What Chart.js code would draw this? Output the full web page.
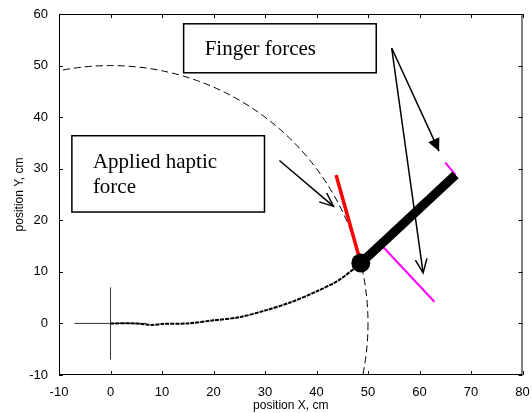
<!DOCTYPE html>
<html>
<head>
<meta charset="utf-8">
<script src="https://cdn.jsdelivr.net/npm/chart.js@4"></script>
<style>
  body { margin: 0; background: #fff; }
  #c { display: block; }
</style>
</head>
<body>
<canvas id="c" width="532" height="413"></canvas>
<script>
// trajectory of the hand (cm)
var trajX = [0, 5, 8, 10, 15, 20, 25, 30, 35, 40, 44.5, 48.6];
var trajY = [0, 0, -0.3, -0.1, 0, 0.6, 1.2, 2.5, 4.1, 6.2, 8.5, 11.7];

// object / forces
var handPos = [48.6, 11.7];
var objEnd = [67, 28.8];
var hapticEnd = [43.8, 28.8];
var fingerA = [[65, 31.2], [67, 28.8]];
var fingerB = [[52.3, 15.5], [62.9, 4.2]];

// workspace circle and origin cross
var circleCenter = [0, 0];
var circleRadius = 50;
var crossX = [-7, 7];
var crossY = [-7, 7];

// arrows : [from, to]
var arrowFinger1 = [[54.6, 53.4], [60.7, 9.8]];
var arrowFinger2 = [[54.6, 53.4], [63.8, 33.4]];
var arrowHaptic = [[32.8, 31.6], [43.3, 22.7]];

// text boxes (data coords : left, top, right, bottom)
var boxFinger = [14.2, 58.1, 51.6, 48.6];
var boxHaptic = [-7.5, 36.4, 29.9, 21.6];
var labelFinger = ['Finger forces'];
var labelHaptic = ['Applied haptic', 'force'];

var xTicks = [-10, 0, 10, 20, 30, 40, 50, 60, 70, 80];
var yTicks = [-10, 0, 10, 20, 30, 40, 50, 60];

function pts(xs, ys) {
  return xs.map(function(x, i) { return { x: x, y: ys[i] }; });
}
function seg(a, b) {
  return [{ x: a[0], y: a[1] }, { x: b[0], y: b[1] }];
}

function arrow(ctx, sx, sy, p, filled) {
  var x1 = sx.getPixelForValue(p[0][0]), y1 = sy.getPixelForValue(p[0][1]);
  var x2 = sx.getPixelForValue(p[1][0]), y2 = sy.getPixelForValue(p[1][1]);
  var a = Math.atan2(y2 - y1, x2 - x1);
  ctx.save();
  ctx.strokeStyle = '#000';
  ctx.fillStyle = '#000';
  ctx.lineWidth = 1.5;
  ctx.beginPath();
  ctx.moveTo(x1, y1);
  ctx.lineTo(x2, y2);
  ctx.stroke();
  var len = filled ? 14 : 15, spread = filled ? 0.45 : 0.4;
  ctx.beginPath();
  ctx.moveTo(x2 - len * Math.cos(a - spread), y2 - len * Math.sin(a - spread));
  ctx.lineTo(x2, y2);
  ctx.lineTo(x2 - len * Math.cos(a + spread), y2 - len * Math.sin(a + spread));
  if (filled) { ctx.closePath(); ctx.fill(); } else { ctx.stroke(); }
  ctx.restore();
}

function textBox(ctx, sx, sy, b, lines) {
  var l = sx.getPixelForValue(b[0]), t = sy.getPixelForValue(b[1]);
  var r = sx.getPixelForValue(b[2]), bo = sy.getPixelForValue(b[3]);
  ctx.save();
  ctx.fillStyle = '#fff';
  ctx.fillRect(l, t, r - l, bo - t);
  ctx.strokeStyle = '#000';
  ctx.lineWidth = 1.5;
  ctx.strokeRect(l, t, r - l, bo - t);
  ctx.fillStyle = '#000';
  ctx.font = '21px "Liberation Serif", "Times New Roman", serif';
  ctx.textBaseline = 'alphabetic';
  var y0 = lines.length > 1 ? t + 32 : t + 31;
  lines.forEach(function(s, i) {
    ctx.fillText(s, l + 21, y0 + i * 25);
  });
  ctx.restore();
}

var decor = {
  id: 'decor',
  beforeDatasetsDraw: function(chart) {
    var ctx = chart.ctx, sx = chart.scales.x, sy = chart.scales.y, ca = chart.chartArea;
    ctx.save();
    ctx.beginPath();
    ctx.rect(ca.left, ca.top, ca.right - ca.left, ca.bottom - ca.top);
    ctx.clip();
    // dashed circle
    var cx = sx.getPixelForValue(circleCenter[0]), cy = sy.getPixelForValue(circleCenter[1]);
    var rx = sx.getPixelForValue(circleRadius) - sx.getPixelForValue(0);
    var ry = sy.getPixelForValue(0) - sy.getPixelForValue(circleRadius);
    ctx.strokeStyle = '#000';
    ctx.lineWidth = 1;
    ctx.setLineDash([7, 4]);
    ctx.beginPath();
    ctx.ellipse(cx, cy, rx, ry, 0, 0, Math.PI * 2);
    ctx.stroke();
    ctx.setLineDash([]);
    // origin cross
    ctx.strokeStyle = '#333';
    ctx.beginPath();
    ctx.moveTo(sx.getPixelForValue(crossX[0]), cy);
    ctx.lineTo(sx.getPixelForValue(crossX[1]), cy);
    ctx.moveTo(cx, sy.getPixelForValue(crossY[0]));
    ctx.lineTo(cx, sy.getPixelForValue(crossY[1]));
    ctx.stroke();
    ctx.restore();
  },
  afterDatasetsDraw: function(chart) {
    var ctx = chart.ctx, sx = chart.scales.x, sy = chart.scales.y, ca = chart.chartArea;
    arrow(ctx, sx, sy, arrowFinger1, false);
    arrow(ctx, sx, sy, arrowFinger2, true);
    arrow(ctx, sx, sy, arrowHaptic, false);
    textBox(ctx, sx, sy, boxFinger, labelFinger);
    textBox(ctx, sx, sy, boxHaptic, labelHaptic);
    // frame and inward ticks
    ctx.save();
    ctx.strokeStyle = '#000';
    ctx.lineWidth = 1;
    ctx.strokeRect(ca.left + 0.5, ca.top + 0.5, ca.right - ca.left - 1, ca.bottom - ca.top - 1);
    ctx.beginPath();
    xTicks.forEach(function(v) {
      var x = Math.round(sx.getPixelForValue(v)) + 0.5;
      ctx.moveTo(x, ca.bottom); ctx.lineTo(x, ca.bottom - 4);
      ctx.moveTo(x, ca.top); ctx.lineTo(x, ca.top + 4);
    });
    yTicks.forEach(function(v) {
      var y = Math.round(sy.getPixelForValue(v)) + 0.5;
      ctx.moveTo(ca.left, y); ctx.lineTo(ca.left + 4, y);
      ctx.moveTo(ca.right, y); ctx.lineTo(ca.right - 4, y);
    });
    ctx.stroke();
    ctx.restore();
  }
};

var ctx = document.getElementById('c').getContext('2d');
var chart = new Chart(ctx, {
  type: 'scatter',
  data: {
    datasets: [
      { // hand marker
        data: seg(handPos, handPos).slice(0, 1),
        pointRadius: 9.5, pointBackgroundColor: '#000', pointBorderWidth: 0, showLine: false
      },
      { // haptic force (red)
        data: seg(handPos, hapticEnd),
        borderColor: '#ff0000', borderWidth: 3.5, showLine: true, pointRadius: 0
      },
      { // object (thick black)
        data: seg(handPos, objEnd),
        borderColor: '#000', borderWidth: 9, showLine: true, pointRadius: 0
      },
      { // finger force A
        data: seg(fingerA[0], fingerA[1]),
        borderColor: '#ff00ff', borderWidth: 2, showLine: true, pointRadius: 0
      },
      { // finger force B
        data: seg(fingerB[0], fingerB[1]),
        borderColor: '#ff00ff', borderWidth: 2, showLine: true, pointRadius: 0
      },
      { // trajectory
        data: pts(trajX, trajY),
        borderColor: '#000', borderWidth: 2, borderDash: [4, 1], showLine: true,
        pointRadius: 0, tension: 0.3
      }
    ]
  },
  options: {
    responsive: false,
    animation: false,
    events: [],
    layout: { padding: { top: 14, right: 9, left: 12, bottom: 0 } },
    plugins: { legend: { display: false }, tooltip: { enabled: false } },
    scales: {
      x: {
        type: 'linear', min: -10, max: 80,
        afterBuildTicks: function(s) { s.ticks = xTicks.map(function(v) { return { value: v }; }); },
        afterFit: function(s) { s.height = 38; },
        grid: { display: false },
        border: { display: false },
        ticks: { color: '#000', padding: 2, maxRotation: 0, font: { family: 'Liberation Sans, Arial', size: 13 } },
        title: { display: true, text: 'position X, cm', color: '#000', padding: { top: 0, bottom: 0 },
                 font: { family: 'Liberation Sans, Arial', size: 12 } }
      },
      y: {
        type: 'linear', min: -10, max: 60,
        afterBuildTicks: function(s) { s.ticks = yTicks.map(function(v) { return { value: v }; }); },
        afterFit: function(s) { s.width = 47; },
        grid: { display: false },
        border: { display: false },
        ticks: { color: '#000', padding: 3, font: { family: 'Liberation Sans, Arial', size: 13 } },
        title: { display: true, text: 'position Y, cm', color: '#000', padding: { top: 0, bottom: 6 },
                 font: { family: 'Liberation Sans, Arial', size: 12 } }
      }
    }
  },
  plugins: [decor]
});
</script>
</body>
</html>
